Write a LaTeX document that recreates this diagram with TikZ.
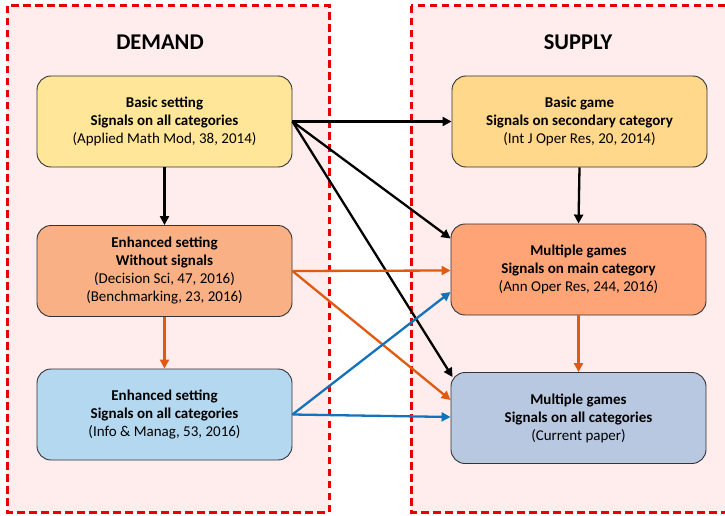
\documentclass[tikz,border=0pt]{standalone}
\usepackage{fontspec}
\setmainfont{Carlito}
\usetikzlibrary{arrows.meta,calc}
\definecolor{panelbg}{HTML}{FFECEC}
\definecolor{panelred}{HTML}{E60000}
\definecolor{cyellow}{HTML}{FFE699}
\definecolor{cgold}{HTML}{FFD88C}
\definecolor{cpeach}{HTML}{F8B084}
\definecolor{csalmon}{HTML}{FFA477}
\definecolor{clblue}{HTML}{B4D8F0}
\definecolor{cgblue}{HTML}{B8C8E0}
\definecolor{aorange}{HTML}{E05A10}
\definecolor{ablue}{HTML}{1472BA}
\begin{document}
\begin{tikzpicture}[x=1pt,y=-1pt,
  panel/.style={fill=panelbg,draw=panelred,line width=3pt,dash pattern=on 7.5pt off 4.5pt},
  card/.style={draw=black!80,line width=0.9pt,rounded corners=14pt,minimum width=255pt,minimum height=91pt,align=center,inner sep=0pt,font=\fontsize{15}{18}\selectfont},
  title/.style={font=\fontsize{22.5}{26}\selectfont\bfseries},
  conn/.style={line width=2.3pt,-{Triangle[length=9pt,width=9pt]}},
  blk/.style={conn,draw=black},
  org/.style={conn,draw=aorange},
  blu/.style={conn,draw=ablue}]
\useasboundingbox (0,0) rectangle (725,516);
\fill[white] (0,0) rectangle (725,516);
\begin{scope}
\clip (0,0) rectangle (725,516);
\draw[panel] (7,6) rectangle (329,512);
\draw[panel] (411,6) rectangle (740,512);
\end{scope}
\node[title] (dem) at (160,42) {DEMAND};
\node[title] (sup) at (578,42) {SUPPLY};
\node[card,fill=cyellow] (bs) at (164.5,121.5) {\textbf{Basic setting}\\\textbf{Signals on all categories}\\(Applied Math Mod, 38, 2014)};
\node[card,fill=cpeach] (ew) at (164.5,271) {\textbf{Enhanced setting}\\\textbf{Without signals}\\(Decision Sci, 47, 2016)\\(Benchmarking, 23, 2016)};
\node[card,fill=clblue] (es) at (164.5,414.5) {\textbf{Enhanced setting}\\\textbf{Signals on all categories}\\(Info \& Manag, 53, 2016)};
\node[card,fill=cgold] (bg) at (579.5,121.5) {\textbf{Basic game}\\\textbf{Signals on secondary category}\\(Int J Oper Res, 20, 2014)};
\node[card,fill=csalmon] (mm) at (578.5,269.5) {\textbf{Multiple games}\\\textbf{Signals on main category}\\(Ann Oper Res, 244, 2016)};
\node[card,fill=cgblue] (ma) at (578.5,418) {\textbf{Multiple games}\\\textbf{Signals on all categories}\\(Current paper)};
\draw[blk] (bs.east) -- (bg.west);
\draw[blk] (bs.east) -- ($(mm.west)+(0,-31)$);
\draw[blk] (bs.east) -- ($(ma.north west)+(2,5)$);
\draw[blk] (bs.south) -- (ew.north);
\draw[blk] (bg.south) -- (mm.north);
\draw[org] (ew.east) -- ($(mm.west)+(0,1)$);
\draw[org] (ew.east) -- ($(ma.west)+(0,-18)$);
\draw[org] (ew.south) -- (es.north);
\draw[org] (mm.south) -- (ma.north);
\draw[blu] (es.east) -- ($(mm.west)+(0,22.5)$);
\draw[blu] (es.east) -- ($(ma.west)+(0,-1)$);
\end{tikzpicture}
\end{document}
